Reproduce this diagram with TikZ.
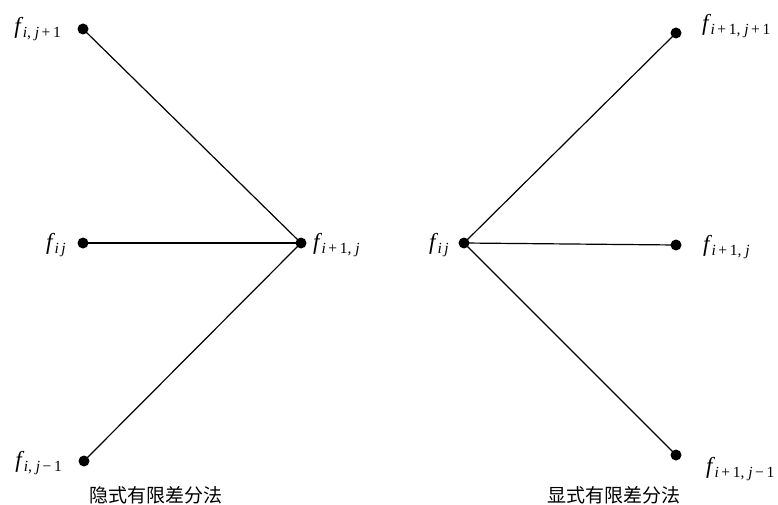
\documentclass[tikz,border=0pt]{standalone}
\usepackage{fontspec}
\newfontfamily\cjk{Noto Sans CJK SC}
\newfontfamily\tms{Liberation Serif}
\newcommand\flab[1]{{\tms\itshape f}\kern2pt\raisebox{-4.5pt}{\fontsize{15.5}{16}\selectfont\tms #1}}
\begin{document}
\begin{tikzpicture}[x=1pt,y=-1pt,
  dot/.style={circle,fill=black,inner sep=0pt,minimum size=11pt},
  lab/.style={font=\fontsize{23}{26}\selectfont,inner sep=0pt},
  captxt/.style={font=\cjk\fontsize{19}{22}\selectfont,inner sep=0pt},
  conn/.style={line width=1.2pt}]
\useasboundingbox (0,0) rectangle (778,505);
% left
\node[dot] (a1) at (83,29) {};
\node[dot] (a2) at (83,243) {};
\node[dot] (a3) at (84,461) {};
\node[dot] (c) at (301,243) {};
\draw[conn] (a1.center) -- (c.center);
\draw[conn] (a2.center) -- (c.center);
\draw[conn] (a3.center) -- (c.center);
\node[lab,anchor=east] (la1) at (61,29) {\flab{\textit{i}, \textit{j}\,+\,1}};
\node[lab,anchor=east] (la2) at (66,245) {\flab{\textit{i}\,\textit{j}}};
\node[lab,anchor=east] (la3) at (62,463) {\flab{\textit{i}, \textit{j}\,−\,1}};
\node[lab,anchor=west] (lc) at (313,245) {\flab{\textit{i}\,+\,1, \textit{j}}};
\node[captxt] (cap1) at (156,495) {隐式有限差分法};
% right
\node[dot] (c2) at (464,243) {};
\node[dot] (b1) at (676,33) {};
\node[dot] (b2) at (676,245) {};
\node[dot] (b3) at (676,455) {};
\draw[conn] (c2.center) -- (b1.center);
\draw[conn] (c2.center) -- (b2.center);
\draw[conn] (c2.center) -- (b3.center);
\node[lab,anchor=east] (lc2) at (449,245) {\flab{\textit{i}\,\textit{j}}};
\node[lab,anchor=west] (lb1) at (702,26) {\flab{\textit{i}\,+\,1, \textit{j}\,+\,1}};
\node[lab,anchor=west] (lb2) at (703,247) {\flab{\textit{i}\,+\,1, \textit{j}}};
\node[lab,anchor=west] (lb3) at (706,469) {\flab{\textit{i}\,+\,1, \textit{j}\,−\,1}};
\node[captxt] (cap2) at (614,495) {显式有限差分法};
\end{tikzpicture}
\end{document}
